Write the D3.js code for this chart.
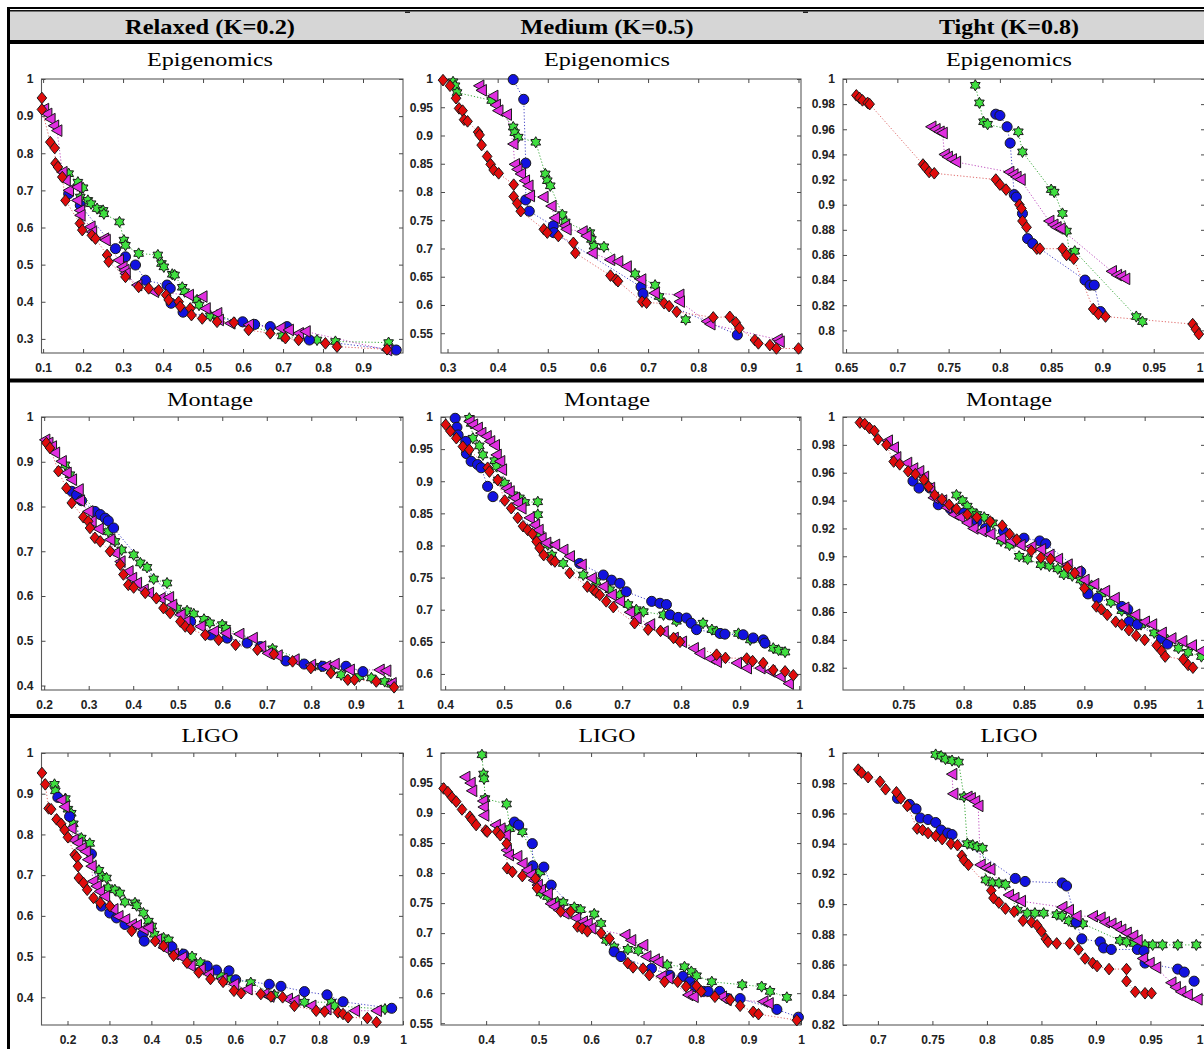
<!DOCTYPE html>
<html>
<head>
<meta charset="utf-8">
<script src="https://cdn.jsdelivr.net/npm/d3@7"></script>
<style>
body { margin: 0; background: #fff; }
svg { display: block; }
</style>
</head>
<body>
<svg width="1204" height="1049"></svg>
<script>
// column headers and row (workflow) titles
var columns = ["Relaxed (K=0.2)", "Medium (K=0.5)", "Tight (K=0.8)"];
var workflows = ["Epigenomics", "Montage", "LIGO"];

// axis ranges per panel, row-major (Epigenomics, Montage, LIGO) x (Relaxed, Medium, Tight)
var xDomains = [[0.096,1.0],[0.287,1.005],[0.647,1.0],[0.194,1.006],[0.393,1.003],[0.70,1.0],[0.138,1.0],[0.314,1.0],[0.668,1.0]];
var yDomains = [[0.262,1],[0.515,1],[0.782,1],[0.390,1],[0.575,1],[0.804,1],[0.332,1],[0.547,1],[0.82,1]];

var xTicks = [
  [0.1,0.2,0.3,0.4,0.5,0.6,0.7,0.8,0.9],
  [0.3,0.4,0.5,0.6,0.7,0.8,0.9,1],
  [0.65,0.7,0.75,0.8,0.85,0.9,0.95,1],
  [0.2,0.3,0.4,0.5,0.6,0.7,0.8,0.9,1],
  [0.4,0.5,0.6,0.7,0.8,0.9,1],
  [0.75,0.8,0.85,0.9,0.95,1],
  [0.2,0.3,0.4,0.5,0.6,0.7,0.8,0.9,1],
  [0.4,0.5,0.6,0.7,0.8,0.9,1],
  [0.7,0.75,0.8,0.85,0.9,0.95,1]
];
var yTicks = [
  [0.3,0.4,0.5,0.6,0.7,0.8,0.9,1],
  [0.55,0.6,0.65,0.7,0.75,0.8,0.85,0.9,0.95,1],
  [0.8,0.82,0.84,0.86,0.88,0.9,0.92,0.94,0.96,0.98,1],
  [0.4,0.5,0.6,0.7,0.8,0.9,1],
  [0.6,0.65,0.7,0.75,0.8,0.85,0.9,0.95,1],
  [0.82,0.84,0.86,0.88,0.9,0.92,0.94,0.96,0.98,1],
  [0.4,0.5,0.6,0.7,0.8,0.9,1],
  [0.55,0.6,0.65,0.7,0.75,0.8,0.85,0.9,0.95,1],
  [0.82,0.84,0.86,0.88,0.9,0.92,0.94,0.96,0.98,1]
];

// ---- Epigenomics ----
var epiRelaxedRed = [[0.097,0.949],[0.097,0.918],[0.118,0.830],[0.129,0.814],[0.131,0.773],[0.137,0.763],[0.148,0.736],[0.156,0.673],[0.192,0.611],[0.198,0.593],[0.222,0.579],[0.231,0.570],[0.260,0.526],[0.264,0.508],[0.306,0.467],[0.339,0.440],[0.364,0.436],[0.389,0.431],[0.408,0.418],[0.414,0.405],[0.439,0.400],[0.443,0.387],[0.468,0.382],[0.471,0.364],[0.498,0.355],[0.535,0.346],[0.577,0.344],[0.614,0.324],[0.668,0.315],[0.706,0.302],[0.739,0.297],[0.806,0.288],[0.835,0.279],[0.960,0.272]];
var epiRelaxedMagenta = [[0.102,0.919],[0.110,0.906],[0.118,0.892],[0.127,0.874],[0.135,0.861],[0.148,0.749],[0.156,0.727],[0.164,0.700],[0.185,0.709],[0.185,0.673],[0.192,0.646],[0.193,0.633],[0.218,0.602],[0.222,0.588],[0.252,0.570],[0.256,0.566],[0.289,0.512],[0.298,0.494],[0.303,0.485],[0.306,0.476],[0.335,0.445],[0.377,0.427],[0.464,0.418],[0.498,0.414],[0.506,0.382],[0.535,0.369],[0.539,0.351],[0.568,0.342],[0.614,0.338],[0.693,0.329],[0.714,0.324],[0.739,0.315],[0.756,0.320],[0.960,0.270]];
var epiRelaxedBlue = [[0.164,0.691],[0.193,0.660],[0.281,0.543],[0.306,0.521],[0.331,0.499],[0.356,0.458],[0.410,0.445],[0.418,0.436],[0.420,0.396],[0.450,0.372],[0.599,0.346],[0.629,0.339],[0.668,0.333],[0.710,0.333],[0.766,0.297],[0.983,0.270]];
var epiRelaxedGreen = [[0.164,0.745],[0.187,0.722],[0.200,0.707],[0.193,0.682],[0.212,0.673],[0.220,0.664],[0.235,0.651],[0.250,0.646],[0.252,0.637],[0.291,0.615],[0.302,0.566],[0.306,0.552],[0.339,0.530],[0.387,0.526],[0.396,0.503],[0.402,0.494],[0.423,0.474],[0.429,0.472],[0.448,0.439],[0.454,0.427],[0.485,0.405],[0.490,0.391],[0.518,0.362],[0.535,0.364],[0.698,0.308],[0.785,0.297],[0.831,0.293],[0.964,0.290]];

var epiMediumRed = [[0.291,0.998],[0.305,0.988],[0.317,0.966],[0.323,0.948],[0.330,0.944],[0.333,0.928],[0.340,0.925],[0.361,0.906],[0.364,0.901],[0.368,0.883],[0.379,0.863],[0.386,0.849],[0.392,0.839],[0.402,0.833],[0.432,0.813],[0.432,0.792],[0.439,0.780],[0.446,0.766],[0.492,0.734],[0.499,0.728],[0.521,0.722],[0.551,0.710],[0.555,0.692],[0.625,0.652],[0.636,0.645],[0.640,0.642],[0.688,0.606],[0.697,0.604],[0.732,0.603],[0.742,0.598],[0.757,0.588],[0.830,0.578],[0.863,0.579],[0.875,0.569],[0.882,0.559],[0.913,0.538],[0.920,0.532],[0.943,0.529],[0.956,0.523],[1.0,0.523]];
var epiMediumMagenta = [[0.363,0.988],[0.368,0.980],[0.391,0.970],[0.396,0.954],[0.401,0.944],[0.418,0.937],[0.431,0.885],[0.434,0.849],[0.439,0.840],[0.446,0.832],[0.454,0.820],[0.461,0.811],[0.464,0.793],[0.491,0.791],[0.507,0.775],[0.514,0.754],[0.534,0.740],[0.537,0.734],[0.569,0.730],[0.577,0.722],[0.589,0.692],[0.624,0.680],[0.640,0.677],[0.657,0.668],[0.686,0.645],[0.713,0.621],[0.762,0.618],[0.763,0.606],[0.817,0.571],[0.824,0.566],[0.958,0.539],[0.962,0.535]];
var epiMediumBlue = [[0.431,0.999],[0.452,0.964],[0.456,0.851],[0.456,0.786],[0.463,0.766],[0.511,0.740],[0.512,0.728],[0.686,0.632],[0.690,0.620],[0.878,0.547]];
var epiMediumGreen = [[0.311,0.995],[0.315,0.988],[0.319,0.976],[0.388,0.962],[0.431,0.915],[0.434,0.905],[0.441,0.897],[0.476,0.888],[0.495,0.832],[0.499,0.820],[0.505,0.811],[0.529,0.760],[0.535,0.747],[0.584,0.728],[0.587,0.716],[0.592,0.704],[0.612,0.703],[0.674,0.655],[0.714,0.635],[0.722,0.615],[0.775,0.574]];

var epiTightRed = [[0.660,0.987],[0.663,0.985],[0.666,0.983],[0.671,0.981],[0.673,0.980],[0.725,0.932],[0.727,0.930],[0.731,0.926],[0.736,0.925],[0.796,0.920],[0.800,0.916],[0.806,0.912],[0.819,0.900],[0.821,0.897],[0.822,0.887],[0.826,0.882],[0.836,0.865],[0.839,0.865],[0.861,0.865],[0.865,0.860],[0.872,0.857],[0.891,0.817],[0.896,0.813],[0.903,0.811],[0.988,0.805],[0.991,0.801],[0.994,0.797]];
var epiTightMagenta = [[0.733,0.962],[0.737,0.960],[0.741,0.958],[0.744,0.957],[0.746,0.940],[0.749,0.938],[0.753,0.936],[0.757,0.934],[0.809,0.926],[0.813,0.924],[0.816,0.922],[0.820,0.920],[0.848,0.887],[0.852,0.884],[0.855,0.882],[0.859,0.881],[0.909,0.847],[0.914,0.844],[0.918,0.843],[0.922,0.841]];
var epiTightBlue = [[0.796,0.972],[0.800,0.971],[0.807,0.962],[0.810,0.949],[0.814,0.908],[0.816,0.906],[0.822,0.893],[0.827,0.873],[0.832,0.869],[0.883,0.840],[0.888,0.836],[0.892,0.836],[0.898,0.815]];
var epiTightGreen = [[0.776,0.995],[0.780,0.981],[0.784,0.966],[0.788,0.964],[0.818,0.958],[0.822,0.942],[0.850,0.912],[0.853,0.910],[0.861,0.893],[0.865,0.879],[0.868,0.860],[0.873,0.863],[0.933,0.811],[0.939,0.807]];

// ---- Montage ----
var monRelaxedRed = [[0.205,0.942],[0.213,0.931],[0.232,0.879],[0.250,0.841],[0.262,0.808],[0.288,0.776],[0.299,0.767],[0.303,0.752],[0.314,0.730],[0.326,0.722],[0.348,0.700],[0.371,0.670],[0.378,0.648],[0.389,0.625],[0.401,0.619],[0.427,0.607],[0.452,0.595],[0.468,0.573],[0.483,0.562],[0.506,0.543],[0.517,0.532],[0.529,0.526],[0.562,0.513],[0.592,0.502],[0.630,0.491],[0.679,0.480],[0.716,0.470],[0.758,0.454],[0.799,0.439],[0.844,0.428],[0.882,0.413],[0.897,0.413],[0.946,0.409],[0.986,0.396]];
var monRelaxedMagenta = [[0.202,0.949],[0.209,0.942],[0.217,0.934],[0.224,0.920],[0.239,0.901],[0.250,0.875],[0.262,0.860],[0.277,0.838],[0.280,0.813],[0.299,0.789],[0.306,0.767],[0.322,0.750],[0.348,0.726],[0.359,0.696],[0.371,0.677],[0.389,0.655],[0.397,0.640],[0.408,0.629],[0.423,0.614],[0.435,0.607],[0.461,0.595],[0.480,0.597],[0.487,0.580],[0.506,0.558],[0.517,0.543],[0.551,0.532],[0.581,0.521],[0.608,0.517],[0.638,0.515],[0.668,0.506],[0.687,0.487],[0.702,0.472],[0.724,0.467],[0.762,0.458],[0.799,0.446],[0.833,0.443],[0.852,0.448],[0.886,0.435],[0.953,0.435],[0.968,0.433],[0.980,0.405]];
var monRelaxedBlue = [[0.262,0.834],[0.273,0.826],[0.284,0.813],[0.314,0.789],[0.326,0.782],[0.337,0.774],[0.344,0.768],[0.356,0.752],[0.529,0.543],[0.574,0.513],[0.611,0.506],[0.656,0.495],[0.686,0.487],[0.743,0.455],[0.784,0.448],[0.826,0.443],[0.878,0.443],[0.916,0.431]];
var monRelaxedGreen = [[0.247,0.893],[0.258,0.871],[0.344,0.744],[0.359,0.722],[0.374,0.703],[0.401,0.692],[0.416,0.674],[0.431,0.664],[0.446,0.638],[0.476,0.629],[0.498,0.573],[0.521,0.567],[0.536,0.560],[0.559,0.548],[0.572,0.540],[0.600,0.536],[0.608,0.528],[0.713,0.482],[0.822,0.443],[0.844,0.433],[0.867,0.424],[0.908,0.420],[0.935,0.417],[0.965,0.409],[0.980,0.403]];

var monMediumRed = [[0.401,0.988],[0.409,0.978],[0.419,0.967],[0.430,0.954],[0.441,0.949],[0.472,0.921],[0.475,0.915],[0.489,0.902],[0.501,0.870],[0.512,0.858],[0.523,0.843],[0.532,0.830],[0.540,0.824],[0.548,0.818],[0.555,0.806],[0.560,0.796],[0.567,0.785],[0.580,0.778],[0.586,0.775],[0.611,0.757],[0.641,0.736],[0.651,0.731],[0.656,0.727],[0.662,0.723],[0.673,0.713],[0.685,0.704],[0.721,0.679],[0.744,0.669],[0.765,0.667],[0.787,0.656],[0.798,0.650],[0.860,0.630],[0.875,0.625],[0.911,0.624],[0.921,0.620],[0.939,0.617],[0.956,0.606],[0.976,0.604],[0.990,0.598]];
var monMediumMagenta = [[0.441,0.993],[0.447,0.988],[0.455,0.983],[0.461,0.975],[0.470,0.970],[0.476,0.962],[0.484,0.956],[0.487,0.941],[0.493,0.931],[0.496,0.918],[0.504,0.889],[0.509,0.884],[0.518,0.874],[0.523,0.866],[0.529,0.858],[0.543,0.843],[0.552,0.832],[0.558,0.824],[0.563,0.811],[0.571,0.804],[0.586,0.801],[0.600,0.793],[0.611,0.783],[0.631,0.770],[0.648,0.749],[0.668,0.736],[0.682,0.723],[0.696,0.713],[0.713,0.696],[0.724,0.687],[0.747,0.677],[0.770,0.666],[0.787,0.656],[0.801,0.650],[0.821,0.640],[0.832,0.632],[0.849,0.624],[0.860,0.619],[0.894,0.617],[0.911,0.609],[0.934,0.609],[0.951,0.604],[0.968,0.596],[0.982,0.585]];
var monMediumBlue = [[0.417,0.998],[0.420,0.984],[0.422,0.972],[0.435,0.962],[0.436,0.943],[0.444,0.931],[0.455,0.926],[0.461,0.921],[0.472,0.892],[0.481,0.876],[0.628,0.772],[0.668,0.754],[0.682,0.746],[0.696,0.741],[0.707,0.728],[0.750,0.713],[0.764,0.710],[0.775,0.708],[0.781,0.692],[0.795,0.688],[0.809,0.687],[0.817,0.679],[0.826,0.669],[0.866,0.663],[0.874,0.662],[0.905,0.661],[0.922,0.656],[0.939,0.653],[0.942,0.648]];
var monMediumGreen = [[0.441,0.998],[0.444,0.990],[0.447,0.967],[0.458,0.955],[0.464,0.941],[0.484,0.932],[0.487,0.923],[0.490,0.902],[0.501,0.897],[0.515,0.879],[0.526,0.874],[0.535,0.867],[0.557,0.868],[0.557,0.848],[0.560,0.817],[0.574,0.801],[0.581,0.785],[0.600,0.772],[0.634,0.754],[0.656,0.744],[0.679,0.731],[0.696,0.723],[0.710,0.708],[0.724,0.700],[0.736,0.697],[0.770,0.692],[0.792,0.682],[0.837,0.679],[0.852,0.669],[0.860,0.666],[0.897,0.663],[0.917,0.653],[0.956,0.640],[0.965,0.637],[0.976,0.634]];

var monTightRed = [[0.714,0.996],[0.718,0.995],[0.722,0.992],[0.726,0.990],[0.729,0.984],[0.736,0.980],[0.742,0.968],[0.747,0.966],[0.754,0.961],[0.760,0.959],[0.767,0.955],[0.771,0.950],[0.776,0.944],[0.782,0.941],[0.788,0.937],[0.794,0.934],[0.803,0.930],[0.811,0.928],[0.822,0.925],[0.832,0.922],[0.838,0.916],[0.844,0.912],[0.856,0.904],[0.864,0.899],[0.872,0.898],[0.886,0.892],[0.892,0.888],[0.900,0.877],[0.910,0.864],[0.914,0.862],[0.919,0.858],[0.926,0.853],[0.931,0.851],[0.937,0.847],[0.943,0.843],[0.950,0.840],[0.960,0.836],[0.964,0.832],[0.967,0.828],[0.982,0.826],[0.986,0.822],[0.990,0.820]];
var monTightMagenta = [[0.737,0.983],[0.742,0.978],[0.744,0.971],[0.753,0.967],[0.758,0.963],[0.763,0.961],[0.767,0.957],[0.772,0.949],[0.775,0.942],[0.782,0.940],[0.786,0.935],[0.792,0.930],[0.797,0.928],[0.803,0.924],[0.808,0.920],[0.815,0.918],[0.822,0.916],[0.831,0.913],[0.839,0.911],[0.847,0.908],[0.856,0.907],[0.864,0.905],[0.871,0.901],[0.878,0.898],[0.886,0.894],[0.894,0.889],[0.900,0.883],[0.908,0.880],[0.917,0.875],[0.925,0.870],[0.933,0.863],[0.942,0.858],[0.950,0.853],[0.956,0.851],[0.964,0.845],[0.972,0.841],[0.981,0.839],[0.989,0.836],[0.997,0.832]];
var monTightBlue = [[0.758,0.954],[0.763,0.949],[0.772,0.949],[0.779,0.937],[0.789,0.934],[0.800,0.931],[0.811,0.925],[0.818,0.920],[0.833,0.918],[0.850,0.913],[0.863,0.911],[0.868,0.909],[0.897,0.889],[0.903,0.873],[0.911,0.870],[0.931,0.864],[0.936,0.862],[0.937,0.853],[0.944,0.851],[0.964,0.841],[0.969,0.837]];
var monTightGreen = [[0.794,0.944],[0.799,0.940],[0.803,0.936],[0.807,0.932],[0.811,0.930],[0.817,0.928],[0.824,0.924],[0.831,0.911],[0.838,0.908],[0.846,0.900],[0.853,0.898],[0.864,0.894],[0.871,0.893],[0.878,0.891],[0.883,0.887],[0.890,0.886],[0.897,0.883],[0.906,0.879],[0.914,0.873],[0.922,0.867],[0.931,0.861],[0.939,0.856],[0.947,0.851],[0.958,0.845],[0.969,0.840],[0.978,0.834],[0.986,0.831],[0.997,0.828]];

// ---- LIGO ----
var ligoRelaxedRed = [[0.139,0.951],[0.147,0.923],[0.155,0.864],[0.161,0.862],[0.174,0.837],[0.185,0.826],[0.193,0.811],[0.201,0.793],[0.217,0.750],[0.222,0.744],[0.225,0.722],[0.227,0.693],[0.238,0.681],[0.247,0.664],[0.262,0.644],[0.278,0.632],[0.301,0.624],[0.353,0.563],[0.409,0.538],[0.429,0.526],[0.453,0.502],[0.485,0.485],[0.513,0.461],[0.541,0.445],[0.571,0.438],[0.597,0.416],[0.614,0.410],[0.661,0.408],[0.685,0.402],[0.713,0.400],[0.741,0.379],[0.793,0.367],[0.813,0.365],[0.845,0.363],[0.857,0.359],[0.869,0.351],[0.915,0.349],[0.937,0.339]];
var ligoRelaxedMagenta = [[0.185,0.884],[0.193,0.868],[0.209,0.815],[0.214,0.787],[0.225,0.779],[0.233,0.766],[0.243,0.758],[0.249,0.738],[0.257,0.722],[0.261,0.685],[0.269,0.673],[0.277,0.660],[0.289,0.648],[0.309,0.616],[0.321,0.599],[0.337,0.591],[0.353,0.579],[0.365,0.577],[0.381,0.567],[0.393,0.571],[0.413,0.542],[0.429,0.522],[0.453,0.506],[0.473,0.498],[0.493,0.477],[0.517,0.469],[0.537,0.457],[0.569,0.445],[0.597,0.432],[0.629,0.420],[0.669,0.408],[0.681,0.402],[0.725,0.396],[0.741,0.392],[0.781,0.379],[0.817,0.371],[0.885,0.367],[0.937,0.367]];
var ligoRelaxedBlue = [[0.177,0.891],[0.205,0.844],[0.257,0.752],[0.281,0.624],[0.301,0.607],[0.317,0.595],[0.337,0.579],[0.379,0.555],[0.383,0.538],[0.449,0.524],[0.477,0.506],[0.533,0.477],[0.555,0.467],[0.585,0.465],[0.601,0.443],[0.681,0.432],[0.709,0.427],[0.765,0.414],[0.819,0.406],[0.857,0.389],[0.973,0.373]];
var ligoRelaxedGreen = [[0.169,0.923],[0.171,0.907],[0.195,0.888],[0.201,0.862],[0.209,0.852],[0.214,0.826],[0.233,0.791],[0.253,0.778],[0.275,0.712],[0.283,0.697],[0.293,0.693],[0.297,0.669],[0.313,0.664],[0.325,0.656],[0.337,0.634],[0.361,0.632],[0.365,0.625],[0.381,0.607],[0.393,0.587],[0.401,0.575],[0.407,0.555],[0.429,0.546],[0.441,0.541],[0.473,0.506],[0.497,0.500],[0.517,0.485],[0.565,0.453],[0.589,0.445],[0.637,0.436],[0.693,0.406],[0.765,0.388],[0.829,0.388],[0.837,0.379],[0.957,0.371]];

var ligoMediumRed = [[0.319,0.941],[0.327,0.935],[0.335,0.926],[0.343,0.919],[0.354,0.906],[0.369,0.894],[0.373,0.889],[0.381,0.880],[0.399,0.871],[0.402,0.869],[0.421,0.869],[0.427,0.863],[0.439,0.849],[0.440,0.808],[0.450,0.802],[0.469,0.795],[0.494,0.791],[0.497,0.775],[0.542,0.736],[0.561,0.736],[0.574,0.711],[0.583,0.708],[0.593,0.703],[0.619,0.700],[0.635,0.691],[0.670,0.650],[0.680,0.643],[0.699,0.641],[0.711,0.630],[0.740,0.619],[0.765,0.619],[0.781,0.611],[0.801,0.612],[0.810,0.603],[0.836,0.594],[0.865,0.589],[0.884,0.579],[0.909,0.569],[0.919,0.565],[0.992,0.555]];
var ligoMediumMagenta = [[0.360,0.960],[0.370,0.950],[0.373,0.937],[0.394,0.920],[0.395,0.910],[0.396,0.896],[0.418,0.880],[0.427,0.874],[0.437,0.863],[0.439,0.838],[0.443,0.830],[0.459,0.828],[0.469,0.816],[0.478,0.805],[0.485,0.797],[0.491,0.788],[0.498,0.780],[0.504,0.772],[0.517,0.766],[0.523,0.749],[0.530,0.744],[0.539,0.738],[0.549,0.733],[0.571,0.725],[0.584,0.719],[0.593,0.716],[0.600,0.708],[0.665,0.697],[0.676,0.688],[0.699,0.680],[0.705,0.661],[0.721,0.656],[0.728,0.652],[0.734,0.628],[0.747,0.625],[0.785,0.597],[0.795,0.594],[0.849,0.594],[0.858,0.589],[0.928,0.586],[0.938,0.583]];
var ligoMediumBlue = [[0.454,0.885],[0.462,0.880],[0.488,0.849],[0.489,0.812],[0.510,0.810],[0.524,0.780],[0.644,0.669],[0.657,0.661],[0.715,0.641],[0.750,0.630],[0.775,0.628],[0.788,0.619],[0.798,0.611],[0.814,0.603],[0.823,0.603],[0.845,0.603],[0.861,0.591],[0.884,0.591],[0.954,0.573],[0.995,0.560]];
var ligoMediumGreen = [[0.392,0.997],[0.395,0.965],[0.396,0.957],[0.398,0.924],[0.439,0.915],[0.445,0.874],[0.469,0.869],[0.503,0.802],[0.504,0.767],[0.517,0.761],[0.536,0.752],[0.547,0.751],[0.568,0.743],[0.580,0.739],[0.606,0.732],[0.619,0.716],[0.629,0.688],[0.644,0.677],[0.670,0.673],[0.690,0.671],[0.745,0.647],[0.778,0.644],[0.791,0.636],[0.801,0.629],[0.830,0.619],[0.888,0.614],[0.925,0.611],[0.941,0.603],[0.973,0.593]];

var ligoTightRed = [[0.682,0.989],[0.685,0.987],[0.691,0.984],[0.702,0.981],[0.707,0.976],[0.717,0.974],[0.721,0.970],[0.727,0.965],[0.736,0.950],[0.741,0.949],[0.746,0.947],[0.753,0.945],[0.759,0.943],[0.767,0.940],[0.773,0.939],[0.777,0.932],[0.779,0.929],[0.783,0.926],[0.804,0.909],[0.806,0.904],[0.811,0.901],[0.817,0.897],[0.825,0.895],[0.833,0.889],[0.841,0.888],[0.846,0.886],[0.850,0.882],[0.854,0.877],[0.856,0.875],[0.864,0.874],[0.876,0.874],[0.884,0.870],[0.890,0.864],[0.897,0.861],[0.901,0.859],[0.912,0.857],[0.928,0.857],[0.928,0.849],[0.936,0.842],[0.945,0.841],[0.951,0.841]];
var ligoTightMagenta = [[0.768,0.986],[0.769,0.973],[0.782,0.971],[0.785,0.970],[0.789,0.968],[0.792,0.965],[0.794,0.926],[0.799,0.924],[0.803,0.923],[0.820,0.906],[0.825,0.904],[0.831,0.902],[0.869,0.898],[0.875,0.896],[0.882,0.892],[0.897,0.892],[0.904,0.891],[0.908,0.888],[0.914,0.887],[0.919,0.885],[0.923,0.883],[0.928,0.881],[0.934,0.879],[0.938,0.876],[0.943,0.864],[0.949,0.861],[0.955,0.858],[0.969,0.848],[0.973,0.845],[0.978,0.842],[0.984,0.840],[0.993,0.837]];
var ligoTightBlue = [[0.718,0.970],[0.729,0.966],[0.735,0.963],[0.739,0.957],[0.746,0.956],[0.753,0.954],[0.758,0.949],[0.764,0.947],[0.768,0.946],[0.826,0.917],[0.835,0.915],[0.869,0.914],[0.873,0.912],[0.882,0.888],[0.887,0.877],[0.904,0.875],[0.907,0.871],[0.914,0.870],[0.938,0.870],[0.944,0.869],[0.945,0.861],[0.975,0.857],[0.981,0.855],[0.990,0.849]];
var ligoTightGreen = [[0.753,0.999],[0.758,0.998],[0.762,0.996],[0.768,0.995],[0.774,0.994],[0.779,0.971],[0.782,0.940],[0.787,0.939],[0.791,0.938],[0.796,0.937],[0.799,0.916],[0.805,0.914],[0.811,0.914],[0.817,0.913],[0.828,0.896],[0.837,0.894],[0.844,0.894],[0.852,0.894],[0.864,0.893],[0.869,0.892],[0.875,0.889],[0.881,0.887],[0.888,0.887],[0.922,0.876],[0.928,0.875],[0.935,0.874],[0.945,0.873],[0.952,0.873],[0.961,0.873],[0.975,0.873],[0.992,0.873]];

// panels in drawing order of series: green, blue, magenta, red
var panelSeries = [
  [epiRelaxedGreen, epiRelaxedBlue, epiRelaxedMagenta, epiRelaxedRed],
  [epiMediumGreen, epiMediumBlue, epiMediumMagenta, epiMediumRed],
  [epiTightGreen, epiTightBlue, epiTightMagenta, epiTightRed],
  [monRelaxedGreen, monRelaxedBlue, monRelaxedMagenta, monRelaxedRed],
  [monMediumGreen, monMediumBlue, monMediumMagenta, monMediumRed],
  [monTightGreen, monTightBlue, monTightMagenta, monTightRed],
  [ligoRelaxedGreen, ligoRelaxedBlue, ligoRelaxedMagenta, ligoRelaxedRed],
  [ligoMediumGreen, ligoMediumBlue, ligoMediumMagenta, ligoMediumRed],
  [ligoTightGreen, ligoTightBlue, ligoTightMagenta, ligoTightRed]
];

// ---------------- layout ----------------
var svg = d3.select("svg");
var colLeft = [41.5, 441, 843], colRight = [403, 801, 1205];
var rowTop = [79, 417, 753], rowBottom = [353, 690, 1025];
var colMid = [210, 607, 1009];
var headWidth = [170, 173, 140];
var titleBase = [66, 405.5, 741.5];
var titleWidth = [126, 86, 57];

var fills = ["#3fe03f", "#1212e0", "#e02ee0", "#e00c0c"];
var lineCols = ["#3aa83a", "#4848c8", "#c050c0", "#e06a6a"];

function hexagram(r) {
  var pts = [];
  for (var i = 0; i < 12; i++) {
    var a = -Math.PI / 2 + i * Math.PI / 6;
    var rr = i % 2 == 0 ? r : r / Math.sqrt(3);
    pts.push([rr * Math.cos(a), rr * Math.sin(a)]);
  }
  return "M" + pts.map(function(p){ return p[0].toFixed(2) + "," + p[1].toFixed(2); }).join("L") + "Z";
}
var shapes = [
  hexagram(5.6),
  d3.symbol(d3.symbolCircle, 80)(),
  "M-5.6,0L4.8,-5.8L4.8,5.8Z",
  "M0,-5.8L4.8,0L0,5.8L-4.8,0Z"
];

// ---- table frame ----
svg.append("rect").attr("x", 10).attr("y", 11).attr("width", 1200).attr("height", 29).attr("fill", "#d6d6d6");
svg.append("rect").attr("x", 7).attr("y", 7).attr("width", 1200).attr("height", 2).attr("fill", "#000");
svg.append("rect").attr("x", 7).attr("y", 10).attr("width", 1200).attr("height", 1.5).attr("fill", "#111");
svg.append("rect").attr("x", 7).attr("y", 40).attr("width", 1200).attr("height", 4).attr("fill", "#000");
svg.append("rect").attr("x", 7).attr("y", 378.5).attr("width", 1200).attr("height", 4).attr("fill", "#000");
svg.append("rect").attr("x", 7).attr("y", 714).attr("width", 1200).attr("height", 4).attr("fill", "#000");
svg.append("rect").attr("x", 7).attr("y", 7).attr("width", 3).attr("height", 1050).attr("fill", "#000");
[408, 806].forEach(function(cx) {
  svg.append("rect").attr("x", cx - 3).attr("y", 11.5).attr("width", 5).attr("height", 1.5).attr("fill", "#222");
});

svg.selectAll(".head").data(columns).enter().append("text")
  .attr("class", "head")
  .attr("x", function(d, i) { return colMid[i]; })
  .attr("y", 34)
  .attr("text-anchor", "middle")
  .attr("font-family", "Liberation Serif, Times New Roman, serif")
  .attr("font-weight", "bold")
  .attr("font-size", 22)
  .attr("textLength", function(d, i) { return headWidth[i]; })
  .attr("lengthAdjust", "spacingAndGlyphs")
  .text(function(d) { return d; });

var fmt = d3.format("~g");

panelSeries.forEach(function(series, i) {
  var r = Math.floor(i / 3), c = i % 3;
  var x = d3.scaleLinear().domain(xDomains[i]).range([colLeft[c], colRight[c]]);
  var y = d3.scaleLinear().domain(yDomains[i]).range([rowBottom[r], rowTop[r]]);
  var g = svg.append("g");

  g.append("text")
    .attr("x", colMid[c]).attr("y", titleBase[r])
    .attr("text-anchor", "middle")
    .attr("font-family", "Liberation Serif, Times New Roman, serif")
    .attr("font-size", 19)
    .attr("textLength", titleWidth[r])
    .attr("lengthAdjust", "spacingAndGlyphs")
    .text(workflows[r]);

  g.append("rect")
    .attr("x", colLeft[c]).attr("y", rowTop[r])
    .attr("width", colRight[c] - colLeft[c]).attr("height", rowBottom[r] - rowTop[r])
    .attr("fill", "none").attr("stroke", "#5a5a5a").attr("stroke-width", 1.1);

  var bottom = g.append("g").attr("transform", "translate(0," + rowBottom[r] + ")")
    .call(d3.axisBottom(x).tickValues(xTicks[i]).tickSize(-4).tickPadding(10).tickFormat(fmt));
  var axes = [
    bottom,
    g.append("g").attr("transform", "translate(" + colLeft[c] + ",0)")
      .call(d3.axisLeft(y).tickValues(yTicks[i]).tickSize(-4).tickPadding(8).tickFormat(fmt)),
    g.append("g").attr("transform", "translate(0," + rowTop[r] + ")")
      .call(d3.axisTop(x).tickValues(xTicks[i]).tickSize(-4).tickFormat("")),
    g.append("g").attr("transform", "translate(" + colRight[c] + ",0)")
      .call(d3.axisRight(y).tickValues(yTicks[i]).tickSize(-4).tickFormat(""))
  ];
  axes.forEach(function(a) {
    a.select(".domain").remove();
    a.style("color", "#4a4a4a")
      .attr("font-family", "Liberation Sans, Arial, sans-serif")
      .attr("font-size", 12)
      .attr("font-weight", "bold");
    a.selectAll("text").attr("fill", "#222");
  });
  // the last label of the right column sits on the page edge: keep it inside
  bottom.selectAll(".tick").each(function(d) {
    var px = x(d);
    if (px > 1196) {
      d3.select(this).select("text").attr("text-anchor", "end").attr("x", 1203 - px);
    }
  });

  var line = d3.line()
    .x(function(d) { return x(d[0]); })
    .y(function(d) { return y(d[1]); });

  series.forEach(function(data, s) {
    g.append("path")
      .datum(data)
      .attr("fill", "none")
      .attr("stroke", lineCols[s])
      .attr("stroke-width", 1)
      .attr("stroke-dasharray", "1.2,2")
      .attr("d", line);
  });
  series.forEach(function(data, s) {
    g.selectAll(null).data(data).enter().append("path")
      .attr("d", shapes[s])
      .attr("transform", function(d) { return "translate(" + x(d[0]) + "," + y(d[1]) + ")"; })
      .attr("fill", fills[s])
      .attr("stroke", "#1a1a1a")
      .attr("stroke-width", 1);
  });
});
</script>
</body>
</html>
